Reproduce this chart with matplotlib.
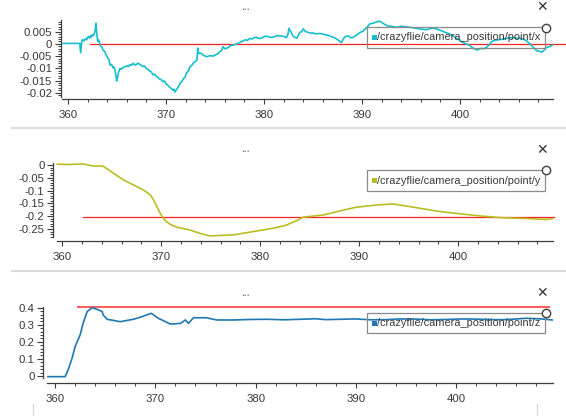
import matplotlib
matplotlib.use("Agg")
import matplotlib.pyplot as plt
from matplotlib.ticker import MultipleLocator, FuncFormatter
from matplotlib.patches import Rectangle
from matplotlib.lines import Line2D

plt.rcParams['font.family'] = ['Liberation Sans', 'DejaVu Sans']
plt.rcParams['axes.unicode_minus'] = False

# ---------------- data ----------------
x_t = [359.5, 360.5, 361.2, 361.3, 361.4, 361.5, 361.6, 361.8, 361.9, 362.0, 362.1, 362.2,
       362.3, 362.4, 362.5, 362.6, 362.75, 362.86, 362.95, 363.03, 363.15, 363.3, 363.45,
       363.57, 363.75, 363.9, 364.1, 364.2, 364.29, 364.45, 364.6, 364.7, 364.8, 364.97,
       365.05, 365.15, 365.31, 365.45, 365.6, 365.8, 366.0, 366.15, 366.3, 366.45, 366.63,
       366.8, 367.0, 367.15, 367.3, 367.5, 367.65, 367.8, 368.0, 368.15, 368.3, 368.5,
       368.67, 368.85, 369.0, 369.15, 369.3, 369.5, 369.69, 369.85, 370.0, 370.2, 370.4,
       370.55, 370.71, 370.8, 370.9, 371.0, 371.1, 371.25, 371.43, 371.6, 371.8, 371.95,
       372.1, 372.3, 372.45, 372.6, 372.8, 373.0, 373.16, 373.25, 373.33, 373.4, 373.6,
       373.78, 374.0, 374.2, 374.5, 374.8, 375.0, 375.3, 375.5, 375.7, 375.82, 376.0,
       376.3, 376.5, 376.7, 377.0, 377.24, 377.5, 377.8, 378.1, 378.3, 378.57, 378.8,
       379.0, 379.2, 379.5, 379.8, 380.0, 380.31, 380.6, 381.0, 381.3, 381.6, 381.94,
       382.1, 382.3, 382.45, 382.55, 382.7, 382.8, 383.0, 383.2, 383.37, 383.5, 383.67,
       383.85, 384.0, 384.2, 384.5, 384.8, 385.0, 385.3, 385.7, 386.0, 386.5, 386.8,
       387.2, 387.5, 387.9, 388.1, 388.27, 388.6, 388.85, 389.11, 389.4, 389.8, 390.1,
       390.3, 390.55, 390.8, 391.2, 391.5, 391.84, 392.2, 392.52, 393.0, 393.3, 393.54,
       394.0, 394.56, 394.9, 395.2, 395.6, 395.92, 396.2, 396.6, 396.9, 397.28, 397.7,
       398.2, 398.6, 398.98, 399.3, 399.6, 400.0, 400.2, 400.5, 400.8, 401.02, 401.3,
       401.5, 401.7, 401.9, 402.2, 402.45, 402.72, 403.0, 403.2, 403.4, 403.9, 404.42,
       404.9, 405.2, 405.44, 405.7, 406.0, 406.25, 406.46, 406.8, 407.14, 407.5, 407.83,
       408.1, 408.34, 408.6, 408.85, 409.2, 409.52]
x_v = [0.0002, 0.0002, 0.0002, -0.0036, 0.0010, 0.0018, 0.0012, 0.0021, 0.0017, 0.0026,
       0.0030, 0.0024, 0.0033, 0.0028, 0.0037, 0.0034, 0.0050, 0.0085, 0.0040, 0.0010,
       0.0016, -0.0008, -0.0012, -0.0025, -0.0031, -0.0045, -0.0060, -0.0066, -0.0087,
       -0.0084, -0.0098, -0.0095, -0.0107, -0.0152, -0.0140, -0.0118, -0.0100, -0.0104,
       -0.0097, -0.0094, -0.0090, -0.0093, -0.0085, -0.0088, -0.0080, -0.0086, -0.0084,
       -0.0079, -0.0083, -0.0088, -0.0093, -0.0090, -0.0101, -0.0104, -0.0110, -0.0114,
       -0.0127, -0.0124, -0.0132, -0.0136, -0.0143, -0.0146, -0.0155, -0.0152, -0.0163,
       -0.0170, -0.0178, -0.0183, -0.0190, -0.0185, -0.0197, -0.0192, -0.0186, -0.0176,
       -0.0162, -0.0155, -0.0142, -0.0136, -0.0118, -0.0110, -0.0093, -0.0090, -0.0078,
       -0.0072, -0.0066, -0.0017, -0.0035, -0.0040, -0.0038, -0.0046, -0.0050, -0.0052,
       -0.0048, -0.0050, -0.0046, -0.0040, -0.0032, -0.0025, -0.0011, -0.0020, -0.0016,
       -0.0010, -0.0006, -0.0003, 0.0000, 0.0005, 0.0011, 0.0017, 0.0014, 0.0023, 0.0020,
       0.0026, 0.0027, 0.0022, 0.0025, 0.0030, 0.0032, 0.0027, 0.0028, 0.0034, 0.0033,
       0.0031, 0.0029, 0.0026, 0.0040, 0.0064, 0.0052, 0.0045, 0.0030, 0.0026, 0.0023,
       0.0035, 0.0048, 0.0050, 0.0062, 0.0052, 0.0047, 0.0044, 0.0045, 0.0041, 0.0043,
       0.0040, 0.0036, 0.0031, 0.0025, 0.0018, 0.0005, 0.0020, 0.0030, 0.0033, 0.0025,
       0.0027, 0.0035, 0.0047, 0.0052, 0.0060, 0.0070, 0.0082, 0.0086, 0.0090, 0.0093,
       0.0083, 0.0075, 0.0072, 0.0070, 0.0068, 0.0072, 0.0070, 0.0068, 0.0066, 0.0063,
       0.0061, 0.0060, 0.0058, 0.0062, 0.0065, 0.0060, 0.0052, 0.0046, 0.0040, 0.0033,
       0.0024, 0.0013, 0.0008, 0.0002, -0.0002, -0.0007, -0.0016, -0.0020, -0.0025,
       -0.0022, -0.0018, -0.0020, -0.0014, -0.0002, 0.0008, 0.0013, 0.0017, 0.0020,
       0.0024, 0.0025, 0.0027, 0.0023, 0.0024, 0.0021, 0.0020, 0.0012, 0.0000, -0.0015,
       -0.0028, -0.0030, -0.0034, -0.0025, -0.0014, -0.0010, -0.0003]

y_t = [359.5, 360.5, 361.2, 362.1, 362.5, 363.1, 364.1, 365.2, 366.2, 367.2, 368.2, 368.9,
       369.15, 369.4, 369.65, 369.9, 370.2, 370.5, 371.0, 371.6, 372.9, 373.9, 374.9,
       377.3, 379.3, 381.3, 382.0, 382.7, 383.0, 383.8, 384.3, 386.4, 388.4, 389.7, 391.8,
       393.4, 395.5, 397.8, 399.8, 402.2, 404.5, 406.9, 408.9, 409.6]
y_v = [0.003, 0.002, 0.003, 0.004, 0.001, -0.004, -0.004, -0.033, -0.059, -0.078, -0.098,
       -0.117, -0.132, -0.150, -0.170, -0.189, -0.207, -0.221, -0.234, -0.243, -0.254,
       -0.267, -0.277, -0.273, -0.260, -0.247, -0.241, -0.234, -0.228, -0.215, -0.204,
       -0.195, -0.176, -0.165, -0.156, -0.152, -0.165, -0.180, -0.189, -0.199, -0.206,
       -0.209, -0.213, -0.209]

z_t = [359.3, 361.0, 361.3, 361.7, 362.0, 362.5, 362.8, 363.2, 363.7, 364.2, 364.7, 364.8,
       365.2, 366.5, 367.8, 368.5, 369.6, 370.3, 371.5, 372.5, 373.0, 373.3, 373.8, 375.1,
       376.1, 377.8, 379.5, 381.1, 382.8, 384.4, 386.0, 387.0, 388.5, 390.0, 391.5, 393.0,
       394.5, 396.0, 397.5, 399.0, 400.5, 402.0, 403.5, 405.0, 407.0, 408.5, 409.6]
z_v = [-0.004, -0.004, 0.035, 0.104, 0.172, 0.240, 0.309, 0.377, 0.400, 0.390, 0.377,
       0.357, 0.332, 0.318, 0.332, 0.344, 0.367, 0.338, 0.304, 0.308, 0.328, 0.308, 0.341,
       0.341, 0.328, 0.328, 0.331, 0.332, 0.329, 0.332, 0.335, 0.330, 0.332, 0.334, 0.329,
       0.330, 0.334, 0.333, 0.329, 0.331, 0.334, 0.333, 0.330, 0.330, 0.338, 0.334, 0.328]

ref_start = [362.2, 362.1, 362.3]
ref_end = [410.8, 409.7, 409.25]
ref_value = [-0.0002, -0.202, 0.402]

series_names = ["/crazyflie/camera_position/point/x",
                "/crazyflie/camera_position/point/y",
                "/crazyflie/camera_position/point/z"]
colors = ['#17becf', '#bcbd22', '#1f77b4']

# ---------------- layout (pixels) ----------------
W, H = 566, 416
fig = plt.figure(figsize=(W / 100, H / 100), dpi=100)

def fr(x, y):
    return (x / W, 1 - y / H)

panels = [
    dict(l=61, r=553, t=20, b=97, axy=99, xlim=(359.29, 409.49), ylim=(-0.02176, 0.0098),
         xs=359.39, ymaj=0.005, ymin=0.001, box_top=27.5),
    dict(l=53.3, r=553, t=163, b=237.3, axy=241, xlim=(359.09, 409.57), ylim=(-0.2824, 0.0078),
         xs=359.5, ymaj=0.05, ymin=0.01, box_top=170.5),
    dict(l=43.3, r=553, t=306.7, b=378.3, axy=382.7, xlim=(358.83, 409.65), ylim=(-0.0135, 0.4057),
         xs=359.2, ymaj=0.1, ymin=0.02, box_top=313),
]
data = [(x_t, x_v), (y_t, y_v), (z_t, z_v)]

def fmt(v, pos):
    v = round(v, 6)
    if v == 0:
        return '0'
    return f"{v:g}"

axc = '#3c3c3c'
for i, p in enumerate(panels):
    ax = fig.add_axes([p['l'] / W, 1 - p['b'] / H, (p['r'] - p['l']) / W, (p['b'] - p['t']) / H])
    ax.set_facecolor('none')
    t, v = data[i]
    ax.plot(t, v, color=colors[i], lw=1.2, zorder=3)
    ax.plot([ref_start[i], ref_end[i]], [ref_value[i], ref_value[i]],
            color='#ff2020' if i < 2 else '#ff5a5a', lw=0.9 if i < 2 else 1.4,
            zorder=2, clip_on=False)
    ax.set_xlim(*p['xlim'])
    ax.set_ylim(*p['ylim'])
    for s in ['top', 'right']:
        ax.spines[s].set_visible(False)
    ax.spines['bottom'].set_position(('outward', (p['axy'] - p['b']) * 0.72))
    ax.spines['bottom'].set_bounds(p['xs'], p['xlim'][1])
    for s in ['left', 'bottom']:
        ax.spines[s].set_color(axc)
        ax.spines[s].set_linewidth(0.9)
    ax.xaxis.set_major_locator(MultipleLocator(10))
    ax.xaxis.set_minor_locator(MultipleLocator(2))
    ax.yaxis.set_major_locator(MultipleLocator(p['ymaj']))
    ax.yaxis.set_minor_locator(MultipleLocator(p['ymin']))
    ax.yaxis.set_major_formatter(FuncFormatter(fmt))
    ax.tick_params(axis='x', which='major', length=3.8, width=0.8, color=axc, pad=4,
                   labelsize=8.2, labelcolor='#383838')
    ax.tick_params(axis='x', which='minor', length=2.3, width=0.7, color=axc)
    ax.tick_params(axis='y', which='major', length=4.3, width=0.8, color=axc, pad=2,
                   labelsize=8.2, labelcolor='#383838')
    ax.tick_params(axis='y', which='minor', length=2.3, width=0.7, color=axc)

    # legend box
    bt = p['box_top']
    x0, y0 = fr(367, bt + 20)
    fig.add_artist(Rectangle((x0, y0), 178 / W, 20 / H, transform=fig.transFigure,
                             fill=False, edgecolor='#8a8a8a', lw=0.9))
    sx, sy = fr(371.5, bt + 12.5)
    fig.add_artist(Rectangle((sx, sy), 5 / W, 5 / H, transform=fig.transFigure,
                             facecolor=colors[i], edgecolor='none'))
    tx, ty = fr(377.3, bt + 10)
    fig.text(tx, ty, series_names[i], fontsize=7.9, color='#3a3a3a', va='center', ha='left')
    # circle handle
    cx, cy = fr(545.5, bt)
    fig.add_artist(Line2D([cx], [cy], marker='o', markersize=6, markerfacecolor='white',
                          markeredgecolor='#404040', markeredgewidth=1.0,
                          transform=fig.transFigure))
    # close icon
    xx, xy = fr(542.5, bt - 20)
    fig.text(xx, xy, '\u2715', fontsize=10, family='DejaVu Sans', color='#333333',
             ha='center', va='center')
    # dots title
    dx, dy = fr(246, p['t'] - 10 if i == 0 else p['t'] - 11)
    fig.text(dx, dy, '\u2022\u2022\u2022', fontsize=3.5, family='DejaVu Sans', color='#666666',
             ha='center', va='center')

# separators
for yy in [127.5, 270.5]:
    fig.add_artist(Line2D([12 / W, 1], [1 - yy / H, 1 - yy / H], color='#dcdcdc', lw=1.5,
                          transform=fig.transFigure))
for xx in [33, 537]:
    fig.add_artist(Line2D([xx / W, xx / W], [1 - 404 / H, 0], color='#d6d6d6', lw=0.9,
                          transform=fig.transFigure))

fig.savefig('out.png', dpi=100)
